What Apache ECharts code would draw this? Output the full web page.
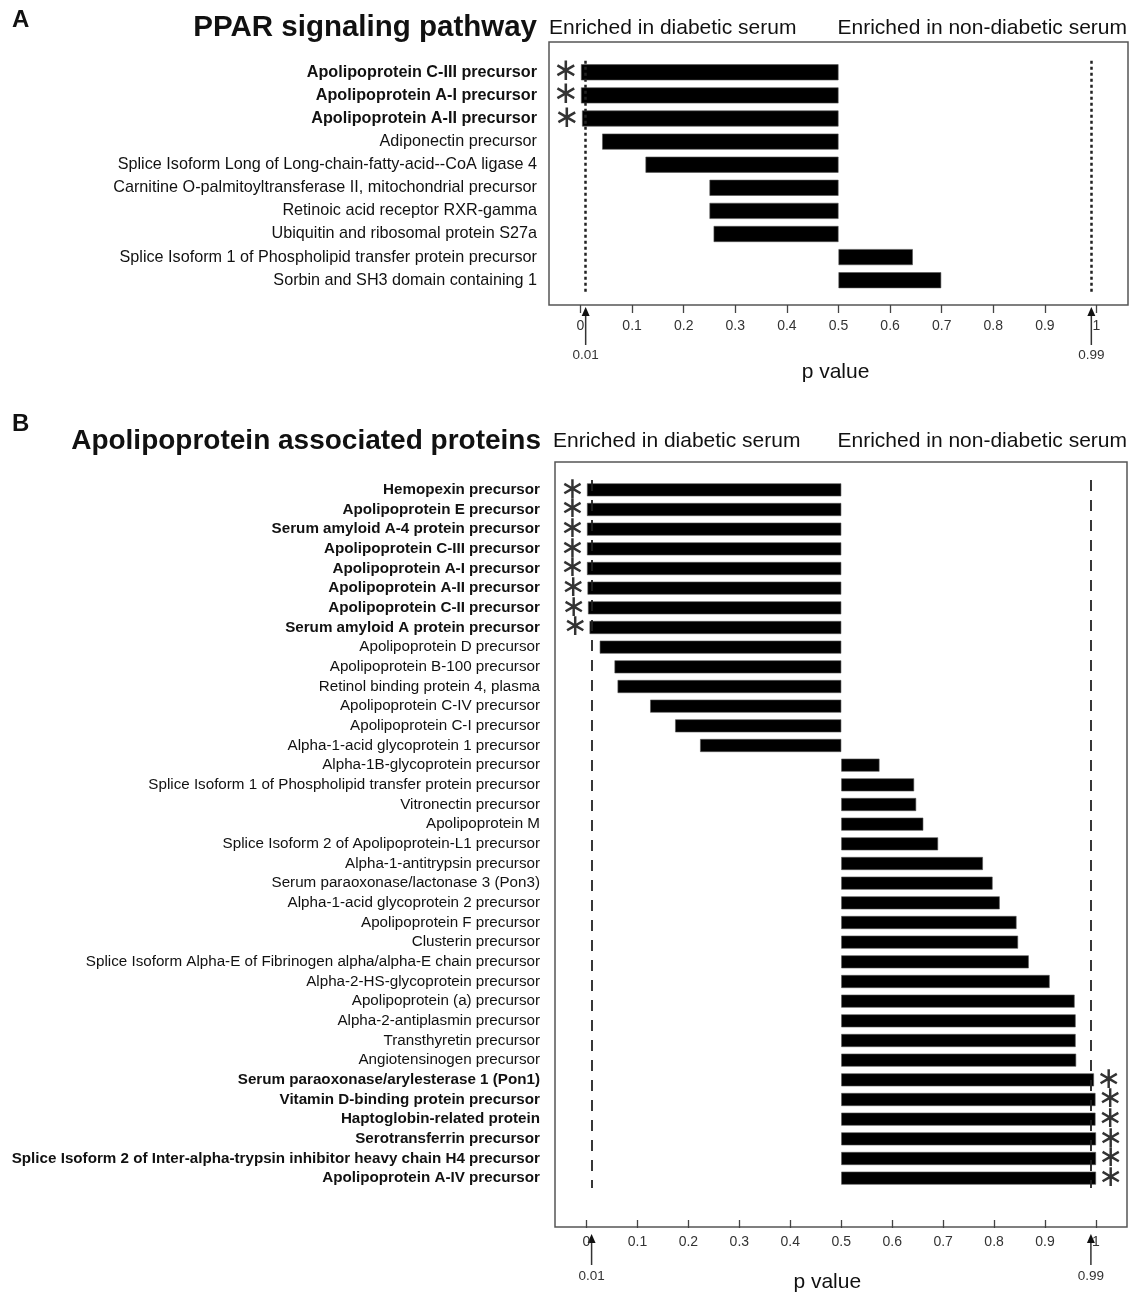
<!DOCTYPE html>
<html><head><meta charset="utf-8">
<script src="https://cdn.jsdelivr.net/npm/echarts@6/dist/echarts.min.js"></script>
<style>html,body{margin:0;padding:0;background:#fff}#c{width:1129px;height:1298px}</style>
</head><body><div id="c"></div>
<script>
// ---------- DATA ----------
const proteinsA = [
  'Apolipoprotein C-III precursor',
  'Apolipoprotein A-I precursor',
  'Apolipoprotein A-II precursor',
  'Adiponectin precursor',
  'Splice Isoform Long of Long-chain-fatty-acid--CoA ligase 4',
  'Carnitine O-palmitoyltransferase II, mitochondrial precursor',
  'Retinoic acid receptor RXR-gamma',
  'Ubiquitin and ribosomal protein S27a',
  'Splice Isoform 1 of Phospholipid transfer protein precursor',
  'Sorbin and SH3 domain containing 1'
];
const pValuesA = [0.001, 0.001, 0.003, 0.042, 0.126, 0.250, 0.250, 0.258, 0.644, 0.699];

const proteinsB = [
  'Hemopexin precursor',
  'Apolipoprotein E precursor',
  'Serum amyloid A-4 protein precursor',
  'Apolipoprotein C-III precursor',
  'Apolipoprotein A-I precursor',
  'Apolipoprotein A-II precursor',
  'Apolipoprotein C-II precursor',
  'Serum amyloid A protein precursor',
  'Apolipoprotein D precursor',
  'Apolipoprotein B-100 precursor',
  'Retinol binding protein 4, plasma',
  'Apolipoprotein C-IV precursor',
  'Apolipoprotein C-I precursor',
  'Alpha-1-acid glycoprotein 1 precursor',
  'Alpha-1B-glycoprotein precursor',
  'Splice Isoform 1 of Phospholipid transfer protein precursor',
  'Vitronectin precursor',
  'Apolipoprotein M',
  'Splice Isoform 2 of Apolipoprotein-L1 precursor',
  'Alpha-1-antitrypsin precursor',
  'Serum paraoxonase/lactonase 3 (Pon3)',
  'Alpha-1-acid glycoprotein 2 precursor',
  'Apolipoprotein F precursor',
  'Clusterin precursor',
  'Splice Isoform Alpha-E of Fibrinogen alpha/alpha-E chain precursor',
  'Alpha-2-HS-glycoprotein precursor',
  'Apolipoprotein (a) precursor',
  'Alpha-2-antiplasmin precursor',
  'Transthyretin precursor',
  'Angiotensinogen precursor',
  'Serum paraoxonase/arylesterase 1 (Pon1)',
  'Vitamin D-binding protein precursor',
  'Haptoglobin-related protein',
  'Serotransferrin precursor',
  'Splice Isoform 2 of Inter-alpha-trypsin inhibitor heavy chain H4 precursor',
  'Apolipoprotein A-IV precursor'
];
const pValuesB = [0.001, 0.001, 0.001, 0.001, 0.001, 0.002, 0.003, 0.006, 0.026, 0.055,
  0.061, 0.125, 0.174, 0.223, 0.575, 0.643, 0.647, 0.661, 0.690, 0.778,
  0.797, 0.811, 0.844, 0.847, 0.868, 0.909, 0.958, 0.960, 0.960, 0.961,
  0.996, 0.999, 0.999, 1.0, 1.0, 1.0];

const tickValues = [0, 0.1, 0.2, 0.3, 0.4, 0.5, 0.6, 0.7, 0.8, 0.9, 1];
const thresholds = [0.01, 0.99];
const midpoint = 0.5;
const titleA = 'PPAR signaling pathway';
const titleB = 'Apolipoprotein associated proteins';
const leftHeader = 'Enriched in diabetic serum';
const rightHeader = 'Enriched in non-diabetic serum';
const axisTitle = 'p value';

// ---------- CHART ----------
const FONT = '"Liberation Sans", Arial, sans-serif';
const chart = echarts.init(document.getElementById('c'), null, {renderer: 'canvas'});

function isSig(v) { return v < thresholds[0] || v > thresholds[1]; }

function panel(idx, names, vals, opt) {
  const yData = names.map((n, i) => ({
    value: n,
    textStyle: { fontWeight: isSig(vals[i]) ? 'bold' : 'normal' }
  }));
  const base = vals.map(v => Math.min(v, midpoint));
  const seg = vals.map(v => {
    const item = { value: Math.abs(v - midpoint) };
    if (isSig(v)) {
      item.label = {
        show: true,
        position: v < midpoint ? 'left' : 'right',
        distance: 2,
        formatter: '\u2217',
        fontFamily: '"DejaVu Sans", sans-serif',
        fontSize: opt.starSize,
        color: '#333'
      };
    }
    return item;
  });
  const xAxis = {
    type: 'value', gridIndex: idx, min: tickValues[0], max: tickValues[tickValues.length - 1], interval: 0.1,
    offset: opt.axisOffset,
    axisLine: { show: false },
    axisTick: { show: true, length: 8, lineStyle: { color: '#444', width: 1.3 } },
    axisLabel: { margin: opt.labelMargin, fontSize: 14, color: '#333', fontFamily: FONT,
      formatter: v => String(+v.toFixed(1)) },
    splitLine: { show: false },
    name: axisTitle, nameLocation: 'middle', nameGap: opt.nameGap,
    nameTextStyle: { fontSize: 21, color: '#111', fontFamily: FONT, padding: opt.namePad }
  };
  const yAxis = {
    type: 'category', gridIndex: idx, inverse: true, data: yData,
    axisLine: { show: false }, axisTick: { show: false },
    axisLabel: { margin: opt.yMargin, fontSize: opt.yFont, color: '#111', fontFamily: FONT }
  };
  const series = [
    { type: 'bar', xAxisIndex: idx, yAxisIndex: idx, stack: 's' + idx, data: base,
      barWidth: opt.barWidth, itemStyle: { color: 'rgba(0,0,0,0)' }, silent: true,
      emphasis: { disabled: true } },
    { type: 'bar', xAxisIndex: idx, yAxisIndex: idx, stack: 's' + idx, data: seg,
      barWidth: opt.barWidth, itemStyle: { color: '#000', borderColor: '#555', borderWidth: 0.6 },
      silent: true, emphasis: { disabled: true },
      markLine: {
        silent: true, symbol: 'none', label: { show: false },
        lineStyle: { color: '#222', width: opt.refWidth, type: opt.refType },
        data: thresholds.map(t => ({ xAxis: t }))
      } }
  ];
  return { xAxis, yAxis, series };
}

const pA = panel(0, proteinsA, pValuesA, {
  axisOffset: 13.25, labelMargin: 14, nameGap: 57, namePad: [0, 6, 0, 0], yMargin: 43.5, yFont: 16.2,
  barWidth: 16, starSize: 31, refWidth: 2.5, refType: [3, 3]
});
const pB = panel(1, proteinsB, pValuesB, {
  axisOffset: 32, labelMargin: 15, nameGap: 52, namePad: [0, 28, 0, 0], yMargin: 46.5, yFont: 15.2,
  barWidth: 13, starSize: 30, refWidth: 1.8, refType: [11, 9]
});

const option = {
  animation: false,
  backgroundColor: '#fff',
  grid: [
    { left: 580.5, top: 60.75, width: 516, height: 231 },
    { left: 586.5, top: 480, width: 509.5, height: 715 }
  ],
  xAxis: [pA.xAxis, pB.xAxis],
  yAxis: [pA.yAxis, pB.yAxis],
  series: pA.series.concat(pB.series)
};
chart.setOption(option);

// ---------- decorations (frames, headings, threshold arrows) ----------
function txt(x, y, s, size, weight, align, color) {
  return { type: 'text', x, y, silent: true,
    style: { text: s, fontSize: size, fontWeight: weight || 'normal', fontFamily: FONT,
      fill: color || '#111', align: align || 'left', verticalAlign: 'middle' } };
}
function frame(x, y, w, h) {
  return { type: 'rect', silent: true, shape: { x, y, width: w, height: h },
    style: { fill: 'none', stroke: '#555', lineWidth: 1.5 } };
}
function arrow(xAxisIndex, v, tipY, endY, labelY) {
  const x = chart.convertToPixel({ xAxisIndex }, v);
  return [
    { type: 'line', silent: true, shape: { x1: x, y1: tipY + 4, x2: x, y2: endY },
      style: { stroke: '#333', lineWidth: 1.5 } },
    { type: 'polygon', silent: true, shape: { points: [[x, tipY], [x - 4, tipY + 9], [x + 4, tipY + 9]] },
      style: { fill: '#111' } },
    txt(x, labelY, String(v), 13.5, 'normal', 'center', '#333')
  ];
}

let g = [
  frame(549, 42, 579, 263),
  frame(555, 462, 572, 765),
  txt(12, 20, 'A', 24, 'bold'),
  txt(537, 28, titleA, 29.5, 'bold', 'right'),
  txt(549, 28, leftHeader, 21),
  txt(1127, 28, rightHeader, 21, 'normal', 'right'),
  txt(12, 424, 'B', 24, 'bold'),
  txt(541, 441, titleB, 28, 'bold', 'right'),
  txt(553, 441, leftHeader, 21),
  txt(1127, 441, rightHeader, 21, 'normal', 'right')
];
thresholds.forEach(t => {
  g = g.concat(arrow(0, t, 307, 345, 355));
  g = g.concat(arrow(1, t, 1234, 1265, 1276));
});
chart.setOption({ graphic: g });
</script>
</body></html>
